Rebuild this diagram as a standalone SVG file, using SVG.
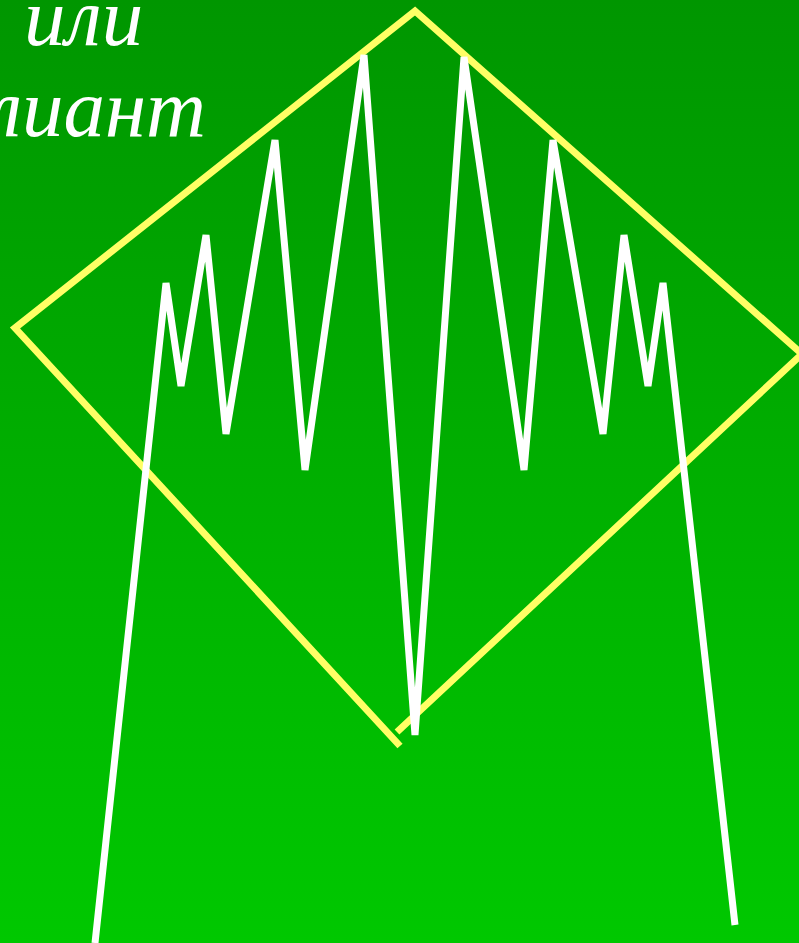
<svg xmlns="http://www.w3.org/2000/svg" width="799" height="943" viewBox="0 0 799 943">
<defs>
<linearGradient id="bg" x1="0" y1="0" x2="0" y2="1">
<stop offset="0" stop-color="#009600"/>
<stop offset="1" stop-color="#00C800"/>
</linearGradient>
<style>
.t{font-family:"Liberation Serif","DejaVu Serif",serif;font-style:italic;font-size:83px;fill:#ffffff}
.w{fill:none;stroke:#ffffff;stroke-width:7;stroke-linejoin:bevel}
.y{fill:none;stroke:#FFFF66;stroke-width:7;stroke-linejoin:miter}
</style>
</defs>
<rect x="0" y="0" width="799" height="943" fill="url(#bg)"/>
<g id="text">
<text class="t" x="24" y="45">или</text>
<text class="t" x="206" y="136" text-anchor="end">бриллиант</text>
</g>
<g id="diamond">
<polyline class="y" points="400,746 15,328 415,11 802,354 397,732"/>
</g>
<g id="zigzag">
<polyline class="w" points="95,943 166,283 181,386 206,235 226,434 275,140 305,470 364,55 415,735 464,57 524,470 553,140 603,434 624,235 648,386 663,283 735,925"/>
</g>
</svg>
